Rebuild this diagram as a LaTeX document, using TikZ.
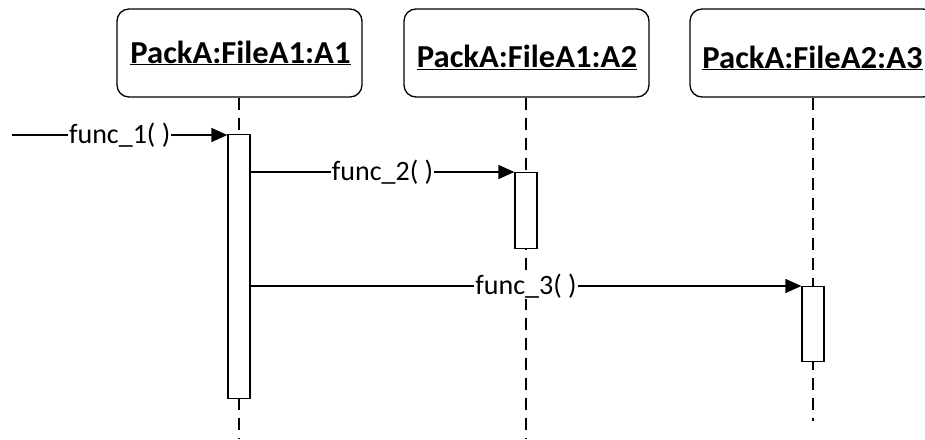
\documentclass[tikz,border=0pt]{standalone}
\usepackage{fontspec}
\setmainfont{Carlito}
\usetikzlibrary{arrows.meta}

\tikzset{
  objbox/.style={draw, line width=1.3pt, rounded corners=12pt,
    minimum width=245pt, minimum height=88pt, inner sep=0pt},
  objname/.style={anchor=base, inner sep=0pt,
    font=\fontsize{32}{36}\selectfont\bfseries},
  lifeline/.style={line width=1.3pt, dash pattern=on 12pt off 8pt},
  actbox/.style={draw, fill=white, line width=1.3pt, minimum width=22pt,
    inner sep=0pt, anchor=north},
  msg/.style={line width=1.3pt, -{Triangle[length=16pt,width=14pt]}},
  msglabel/.style={fill=white, inner sep=1pt,
    font=\fontsize{28}{32}\selectfont},
}
\newcommand{\objtitle}[1]{\scalebox{1.02}[1]{\underline{#1}}}

\begin{document}
\begin{tikzpicture}[x=1pt, y=-1pt]
  \useasboundingbox (0,0) rectangle (925,439);

  % object heads
  \node[objbox] (obj1) at (239.5,53) {};
  \node[objbox] (obj2) at (526.5,53) {};
  \node[objbox] (obj3) at (812.5,53) {};
  \node[objname] (name1) at (240.5,63) {\objtitle{PackA:FileA1:A1}};
  \node[objname] (name2) at (527,67.5) {\objtitle{PackA:FileA1:A2}};
  \node[objname] (name3) at (812.5,68) {\objtitle{PackA:FileA2:A3}};

  % lifeline ends
  \coordinate (end1) at (239,439);
  \coordinate (end2) at (526,439);
  \coordinate (end3) at (813,421);

  % lifelines
  \draw[lifeline] (obj1.south -| end1) -- (end1);
  \draw[lifeline] (obj2.south -| end2) -- (end2);
  \draw[lifeline] (obj3.south -| end3) -- (end3);

  % activation bars
  \node[actbox, minimum height=264pt] (act1) at (239,134) {};
  \node[actbox, minimum height=76pt]  (act2) at (526,172) {};
  \node[actbox, minimum height=75pt]  (act3) at (813,286) {};

  % messages
  \coordinate (caller) at (12,135);
  \draw[msg] (caller) -- node[msglabel] (m1) {func\_1( )} (caller -| act1.west);
  \draw[msg] (act1.east |- act2.north) -- node[msglabel] (m2) {func\_2( )}
    (act2.north west);
  \draw[msg] (act1.east |- act3.north) -- node[msglabel] (m3) {func\_3( )}
    (act3.north west);
\end{tikzpicture}
\end{document}
